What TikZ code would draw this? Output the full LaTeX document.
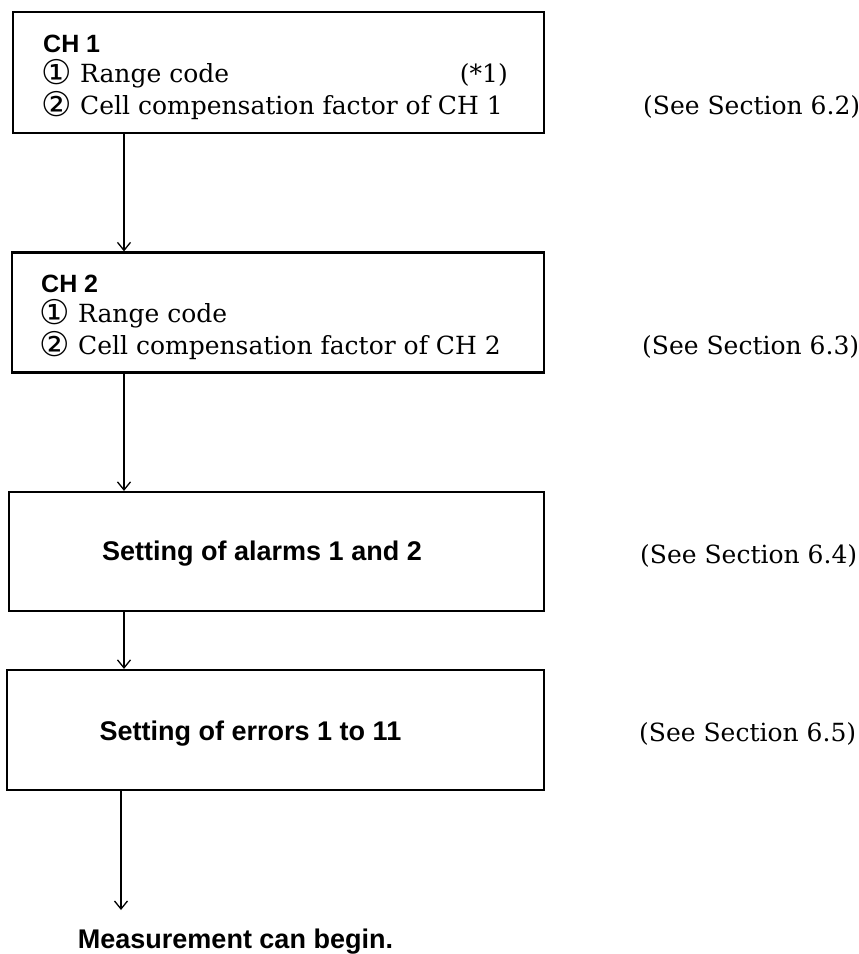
\documentclass[tikz,border=0pt]{standalone}
\usepackage{fontspec}
\setmainfont{DejaVu Serif}
\newfontfamily\hsans{Liberation Sans}
\newfontfamily\circfont{DejaVu Sans}
\usetikzlibrary{arrows.meta}
\begin{document}
\begin{tikzpicture}[x=1pt,y=-1pt,
  box/.style={draw, line width=2.2pt, rectangle, inner sep=0pt},
  arr/.style={line width=1.2pt, -{Straight Barb[length=8pt,width=13pt,line width=1.3pt]}},
  serif/.style={inner sep=0pt, font=\fontsize{25}{30}\selectfont},
  circd/.style={inner sep=0pt, font=\circfont\fontsize{34}{36}\selectfont},
  head/.style={inner sep=0pt, font=\hsans\bfseries\fontsize{25}{30}\selectfont},
  title/.style={inner sep=0pt, font=\hsans\bfseries\fontsize{27}{32}\selectfont},
  sec/.style={inner sep=0pt, anchor=base west, font=\fontsize{25}{30}\selectfont}]
\useasboundingbox (0,0) rectangle (859,954);
% boxes
\node[box, minimum width=531pt, minimum height=121pt] (b1) at (278.5,72.5) {};
\node[box, minimum width=532pt, minimum height=120pt] (b2) at (278,312.5) {};
\node[box, minimum width=535pt, minimum height=119pt] (b3) at (276.5,551.5) {};
\node[box, minimum width=537pt, minimum height=120pt] (b4) at (275.5,730) {};
% box 1 text
\node[head, anchor=base west] (h1) at (43,52) {CH 1};
\node[circd, anchor=base west] (c11) at (41,84) {①};
\node[serif, anchor=base west] (t11) at (80,82) {Range code};
\node[serif, anchor=base east] (n1) at (508,82) {(*1)};
\node[circd, anchor=base west] (c12) at (41,116) {②};
\node[serif, anchor=base west] (t12) at (80,114) {Cell compensation factor of CH 1};
% box 2 text
\node[head, anchor=base west] (h2) at (41,292) {CH 2};
\node[circd, anchor=base west] (c21) at (39,324) {①};
\node[serif, anchor=base west] (t21) at (78,322) {Range code};
\node[circd, anchor=base west] (c22) at (39,356) {②};
\node[serif, anchor=base west] (t22) at (78,354) {Cell compensation factor of CH 2};
% box 3,4 text
\node[title, anchor=base] (t3) at (262,560) {Setting of alarms 1 and 2};
\node[title, anchor=base] (t4) at (250.5,740) {Setting of errors 1 to 11};
% section references
\node[sec] (s2) at (643,114) {(See Section 6.2)};
\node[sec] (s3) at (642,354) {(See Section 6.3)};
\node[sec] (s4) at (640,563) {(See Section 6.4)};
\node[sec] (s5) at (639,741) {(See Section 6.5)};
% end text
\node[title, anchor=base] (m) at (235.5,948) {Measurement can begin.};
% connectors
\coordinate (ax) at (124,0);
\coordinate (mend) at (121,910);
\draw[arr] (b1.south -| ax) -- (b2.north -| ax);
\draw[arr] (b2.south -| ax) -- (b3.north -| ax);
\draw[arr] (b3.south -| ax) -- (b4.north -| ax);
\draw[arr] (b4.south -| mend) -- (mend);
\end{tikzpicture}
\end{document}
